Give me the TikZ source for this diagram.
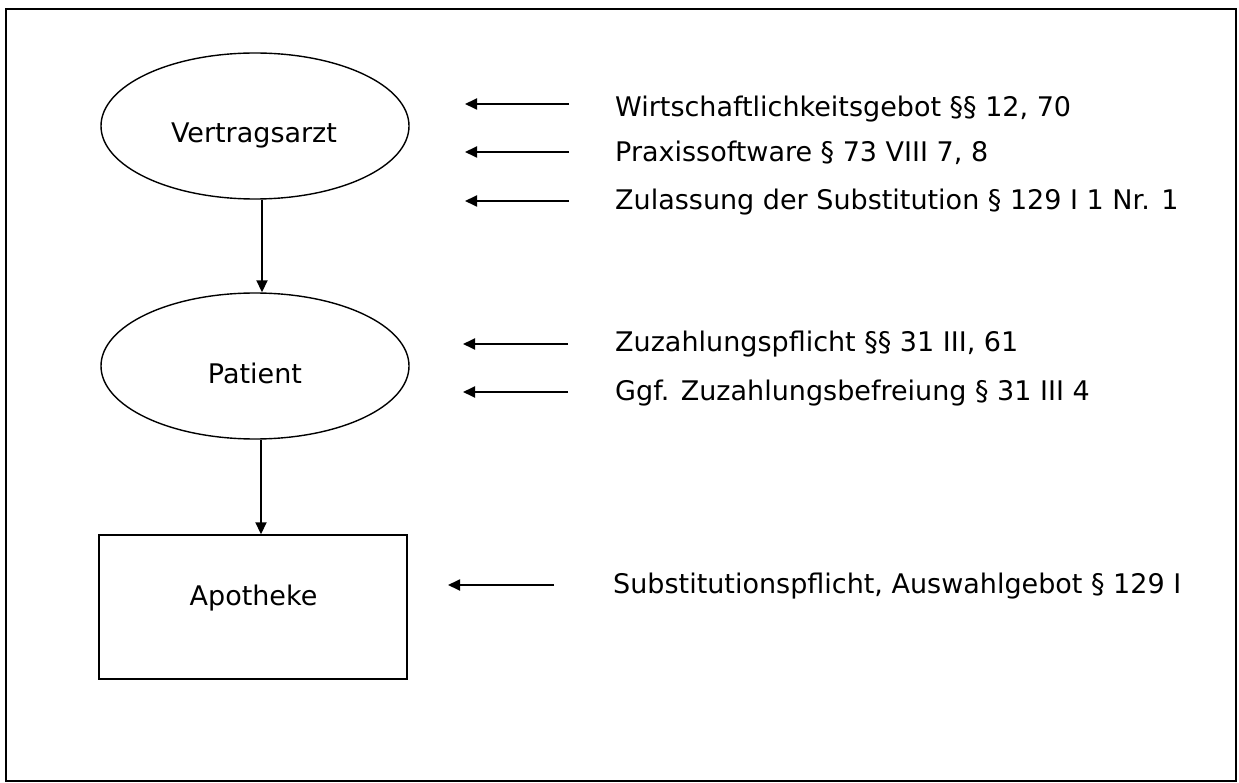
\documentclass[tikz,border=0pt]{standalone}
\usepackage{fontspec}
\setmainfont{DejaVu Sans}
\usetikzlibrary{arrows.meta,shapes.geometric}
\begin{document}
\begin{tikzpicture}[x=1pt,y=-1pt,
  txt/.style={font=\fontsize{27}{30}\selectfont, inner sep=0pt},
  lbl/.style={txt, anchor=base west},
  clbl/.style={txt, anchor=base},
  ell/.style={draw, line width=1.4pt, ellipse, minimum width=308pt, minimum height=146pt, inner sep=0pt},
  boxn/.style={draw, line width=1.4pt, minimum width=308pt, minimum height=144pt, inner sep=0pt},
  arr/.style={line width=1.8pt, -{Triangle[length=12pt,width=11pt]}}
]
\useasboundingbox (0,0) rectangle (1239,783);
\draw[line width=1.5pt] (6,9) rectangle (1236,781);
\node[ell] (va) at (255,126) {};
\node[ell] (pa) at (255,366) {};
\node[boxn] (ap) at (253,607) {};
\node[clbl] (vat) at (254,143) {Vertragsarzt};
\node[clbl] (pat) at (255,383) {Patient};
\node[clbl] (apt) at (253.5,605) {Apotheke};
\draw[arr] (va.south -| 262,0) -- (pa.north -| 262,0);
\draw[arr] (pa.south -| 261,0) -- (ap.north -| 261,0);
\node[lbl] (t1) at (615,117) {Wirtschaftlichkeitsgebot §§ 12, 70};
\node[lbl] (t2) at (615,162) {Praxissoftware § 73 VIII 7, 8};
\node[lbl] (t3) at (615,210) {Zulassung der Substitution § 129 I 1 Nr. 1};
\node[lbl] (t4) at (615,352) {Zuzahlungspflicht §§ 31 III, 61};
\node[lbl] (t5) at (615,400) {Ggf. Zuzahlungsbefreiung § 31 III 4};
\node[lbl] (t6) at (613,593) {Substitutionspflicht, Auswahlgebot § 129 I};
\coordinate (s1) at (569,104);
\coordinate (e1) at (465,104);
\coordinate (s2) at (569,152);
\coordinate (e2) at (465,152);
\coordinate (s3) at (569,201);
\coordinate (e3) at (465,201);
\coordinate (s4) at (568,344);
\coordinate (e4) at (463,344);
\coordinate (s5) at (568,392);
\coordinate (e5) at (463,392);
\coordinate (s6) at (554,585);
\coordinate (e6) at (448,585);
\foreach \i in {1,...,6} \draw[arr] (s\i) -- (e\i);
\end{tikzpicture}
\end{document}
